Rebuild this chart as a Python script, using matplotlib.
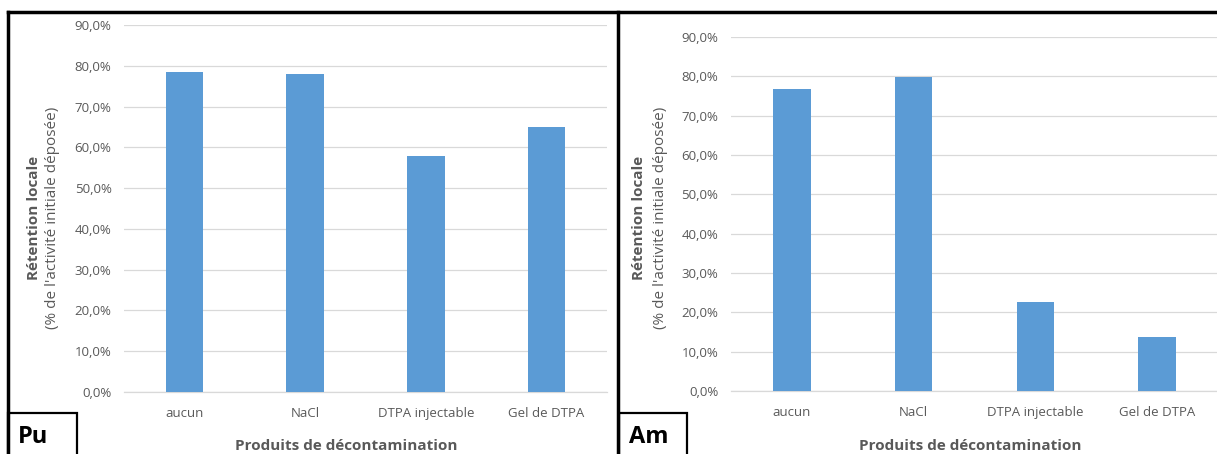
import matplotlib
matplotlib.use("Agg")
import matplotlib.pyplot as plt
from matplotlib.lines import Line2D
from matplotlib.patches import Rectangle
from matplotlib.ticker import FuncFormatter

plt.rcParams['font.family'] = ['Open Sans', 'DejaVu Sans']

categories = ["aucun", "NaCl", "DTPA injectable", "Gel de DTPA"]
pu_values = [78.4, 78.1, 57.8, 64.9]
am_values = [76.7, 79.8, 22.7, 13.7]
y_ticks = [0, 10, 20, 30, 40, 50, 60, 70, 80, 90]

bar_color = "#5B9BD5"
grid_color = "#D9D9D9"
text_color = "#595959"

W, H = 1217, 454
fig = plt.figure(figsize=(W / 100, H / 100), dpi=100)


def fx(px):
    return px / W


def fy(py):
    return 1 - py / H


def pct(v, pos):
    return ("%.1f%%" % v).replace(".", ",")


def panel(left, right, top, bottom, values, name, box_left, box_right, lab_x1, lab_x2, title_x):
    ax = fig.add_axes([fx(left), fy(bottom), fx(right - left), (bottom - top) / H])
    ax.bar(range(len(categories)), values, width=0.31, color=bar_color, zorder=3)
    ax.set_xlim(-0.5, len(categories) - 0.5)
    ax.set_ylim(0, 90)
    ax.set_yticks(y_ticks)
    ax.yaxis.set_major_formatter(FuncFormatter(pct))
    ax.set_xticks(range(len(categories)))
    ax.set_xticklabels(categories)
    ax.grid(axis="y", color=grid_color, linewidth=0.9, zorder=0)
    for s in ["top", "right", "left"]:
        ax.spines[s].set_visible(False)
    ax.spines["bottom"].set_color(grid_color)
    ax.spines["bottom"].set_linewidth(0.9)
    ax.tick_params(axis="y", length=0, pad=9, labelsize=9.5, labelcolor=text_color)
    ax.tick_params(axis="x", length=0, pad=11, labelsize=9.5, labelcolor=text_color)
    # y label, two lines
    fig.text(fx(lab_x1), fy(218), "Rétention locale", rotation=90, ha="center", va="center",
             fontsize=11, fontweight="bold", color=text_color)
    fig.text(fx(lab_x2), fy(218), "(% de l'activité initiale déposée)", rotation=90, ha="center",
             va="center", fontsize=11, color=text_color)
    fig.text(fx(title_x), fy(446), "Produits de décontamination", ha="center", va="center",
             fontsize=11, fontweight="bold", color=text_color)
    # label box
    fig.patches.append(Rectangle((fx(box_left), -0.01), fx(box_right - box_left), (H - 413) / H + 0.01,
                                 transform=fig.transFigure, fill=False, edgecolor="black", linewidth=1.6))
    fig.text(fx(box_left + 10), fy(437), name, ha="left", va="center", fontsize=17,
             fontweight="bold", color="black")
    return ax


panel(124, 607, 25, 392, pu_values, "Pu", 8, 77, 34, 53, 346)
panel(731, 1218, 37, 391, am_values, "Am", 619, 687, 639, 660, 970)

# outer frames
for xs, ys in [([8, 8], [12, H]), ([8, W], [12, 12]), ([618, 618], [12, H])]:
    fig.add_artist(Line2D([fx(x) for x in xs], [fy(y) for y in ys], color="black", linewidth=2.5,
                          transform=fig.transFigure))

fig.savefig("out.png", dpi=100, facecolor="white")
